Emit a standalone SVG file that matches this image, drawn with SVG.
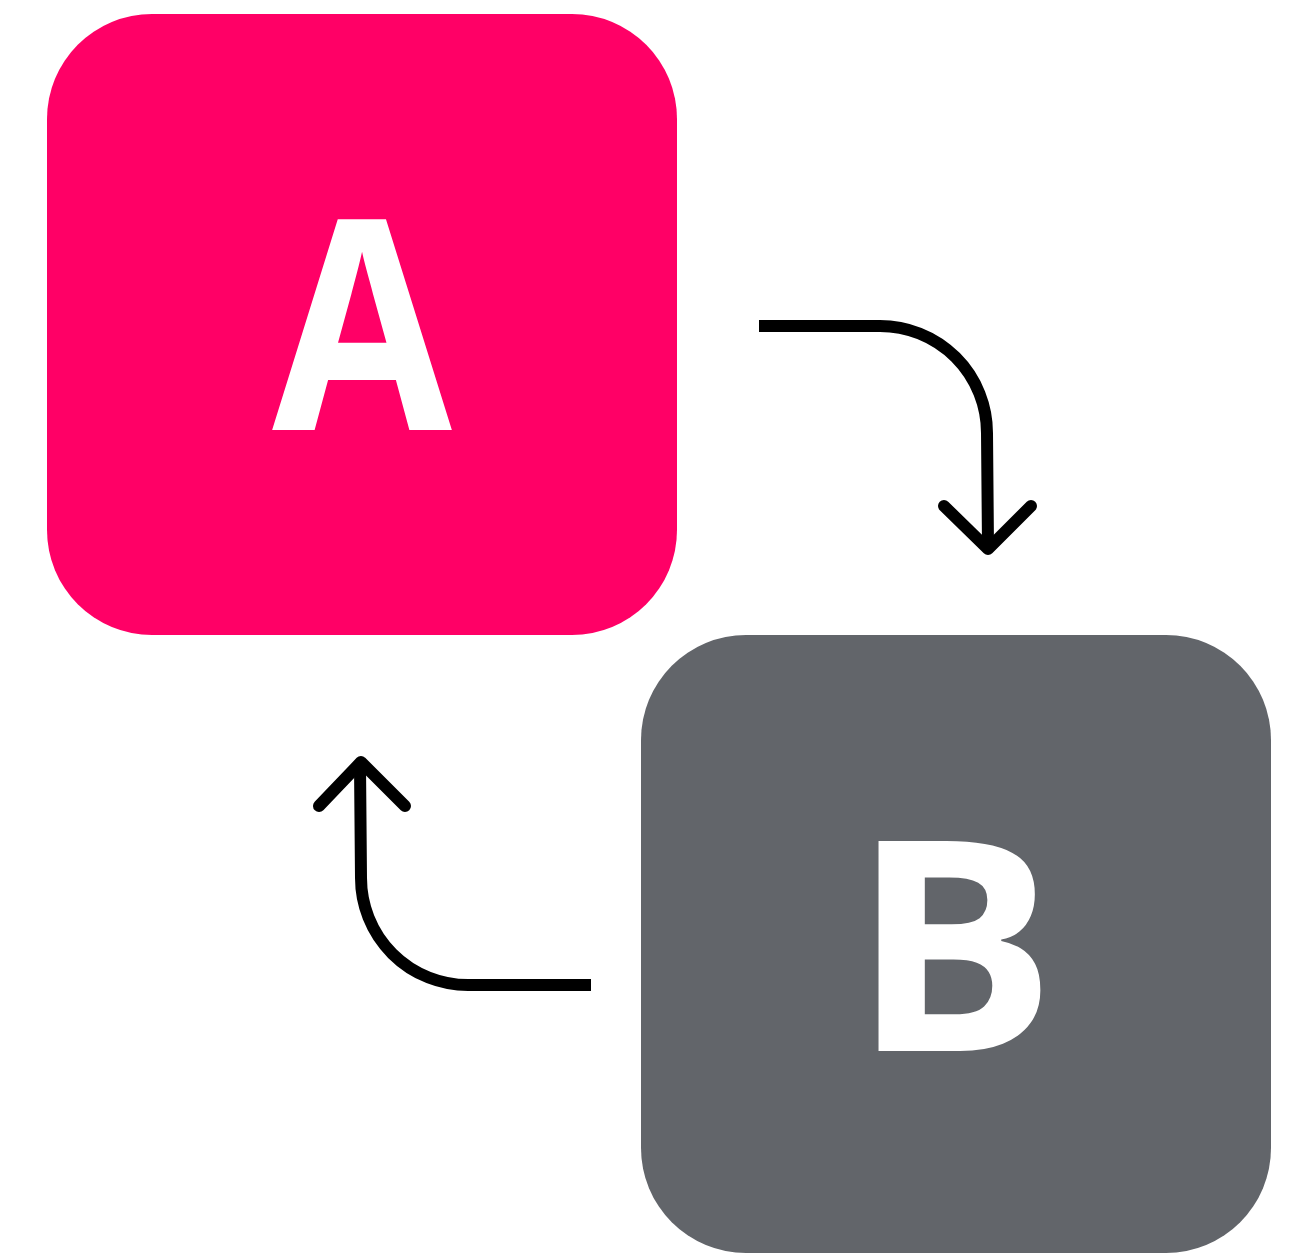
<svg xmlns="http://www.w3.org/2000/svg" width="1292" height="1254" viewBox="0 0 1292 1254">
<style>
.lbl{font-family:"Open Sans","Liberation Sans",sans-serif;font-weight:700;font-size:294px;fill:#fff;text-anchor:middle}
.con{fill:none;stroke:#000;stroke-width:12}
.head{fill:none;stroke:#000;stroke-width:12;stroke-linecap:round;stroke-linejoin:round}
</style>
<rect width="1292" height="1254" fill="#fff"/>
<g id="nodeA">
<rect x="47" y="14" width="630" height="621" rx="105" fill="#FF0066"/>
<text class="lbl" x="362" y="430" transform="translate(362 0) scale(0.886 1) translate(-362 0)">A</text>
</g>
<g id="nodeB">
<rect x="641" y="635" width="630" height="618" rx="105" fill="#62656A"/>
<text class="lbl" x="954" y="1051" transform="translate(959.5 0) scale(1.04 1) translate(-959.5 0)">B</text>
</g>
<g id="connectors">
<path class="con" d="M759 326 H880 A107 107 0 0 1 987 433 L988 546"/>
<path class="head" d="M944 506 L988 549 L1031 506"/>
<path class="con" d="M591 985 H468 A107 107 0 0 1 361 878 L360 765"/>
<path class="head" d="M319 806 L361 762 L405 806"/>
</g>
</svg>
